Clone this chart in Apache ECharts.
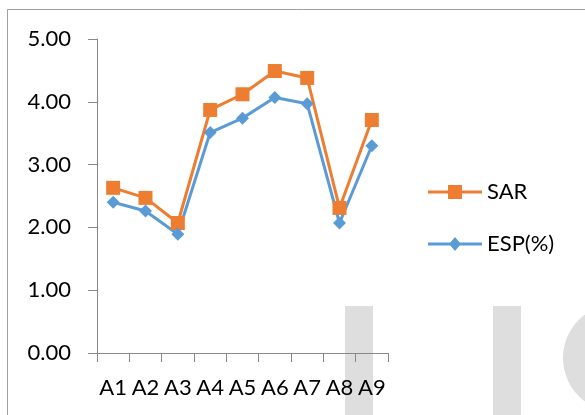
<!DOCTYPE html>
<html><head><meta charset="utf-8">
<script src="https://cdn.jsdelivr.net/npm/echarts@6/dist/echarts.min.js"></script>
<style>html,body{margin:0;padding:0;background:#fff}#c{width:585px;height:415px}</style>
</head><body><div id="c"></div>
<script>
const categories = ['A1','A2','A3','A4','A5','A6','A7','A8','A9'];
const sarValues = [2.63, 2.47, 2.07, 3.87, 4.12, 4.49, 4.38, 2.31, 3.71];
const espValues = [2.40, 2.26, 1.89, 3.51, 3.74, 4.07, 3.97, 2.07, 3.30];
const yTicks = { min: 0, max: 5, interval: 1 };

const FONT = 'Lato';
const sarIcon = 'path://M0,5.5L54,5.5L54,8.5L0,8.5Z M20,0L34,0L34,14L20,14Z';
const espIcon = 'path://M0,5.5L54,5.5L54,8.5L0,8.5Z M27,0L33,7L27,14L21,7Z';
const chart = echarts.init(document.getElementById('c'), null, {renderer: 'canvas'});
chart.setOption({
  animation: false,
  backgroundColor: '#fff',
  textStyle: { fontFamily: FONT },
  graphic: [
    { type: 'rect', z: -10, shape: { x: 345, y: 306, width: 28, height: 120 }, style: { fill: '#dedede' } },
    { type: 'rect', z: -10, shape: { x: 493, y: 306, width: 28, height: 120 }, style: { fill: '#dedede' } },
    { type: 'circle', z: -10, shape: { cx: 617, cy: 358, r: 54 }, style: { fill: '#dedede' } },
    { type: 'rect', z: -10, shape: { x: 7.5, y: 9.5, width: 700, height: 500 }, style: { fill: 'none', stroke: '#a0a0a0', lineWidth: 1 } }
  ],
  grid: { left: 97, right: 197, top: 39, bottom: 62, containLabel: false },
  legend: {
    orient: 'vertical', left: 428, top: 181, padding: 0,
    itemWidth: 54, itemHeight: 14, itemGap: 30,
    textStyle: { fontSize: 22, color: '#000', fontFamily: FONT },
    data: [ { name: 'SAR', icon: sarIcon }, { name: 'ESP(%)', icon: espIcon } ]
  },
  xAxis: {
    type: 'category', data: categories,
    axisLine: { lineStyle: { color: '#888', width: 1 } },
    axisTick: { show: true, length: 9, lineStyle: { color: '#888' } },
    axisLabel: { fontSize: 22, color: '#000', margin: 24, fontFamily: FONT, interval: 0 },
    splitLine: { show: false }
  },
  yAxis: {
    type: 'value', min: yTicks.min, max: yTicks.max, interval: yTicks.interval,
    axisLine: { show: true, lineStyle: { color: '#888', width: 1 } },
    axisTick: { show: true, length: 9, lineStyle: { color: '#888' } },
    axisLabel: { fontSize: 22, color: '#000', margin: 26, fontFamily: FONT, formatter: v => v.toFixed(2) },
    splitLine: { show: false }
  },
  series: [
    { name: 'SAR', type: 'line', data: sarValues, symbol: 'rect', symbolSize: 14,
      lineStyle: { color: '#ED7D31', width: 3 }, itemStyle: { color: '#ED7D31' } },
    { name: 'ESP(%)', type: 'line', data: espValues, symbol: 'diamond', symbolSize: 13,
      lineStyle: { color: '#5B9BD5', width: 3 }, itemStyle: { color: '#5B9BD5' } }
  ]
});
</script></body></html>
